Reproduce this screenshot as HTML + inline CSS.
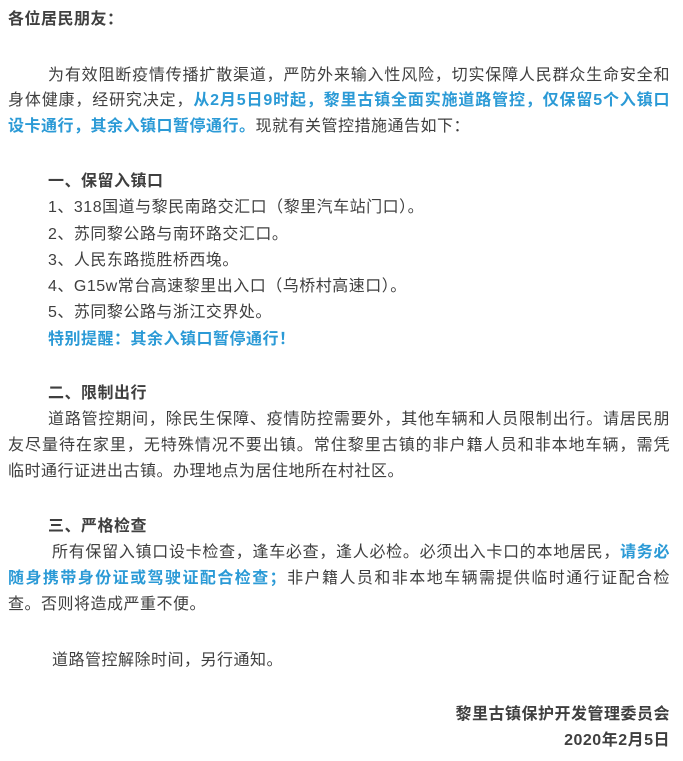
<!DOCTYPE html>
<html><head><meta charset="utf-8"><style>
html,body{margin:0;padding:0;background:#fff;width:683px;height:761px;overflow:hidden;}
body{position:relative;font-family:"Liberation Sans","Noto Sans CJK SC",sans-serif;font-size:16px;color:#3f3f3f;letter-spacing:0.5px;}
.l{position:absolute;white-space:nowrap;line-height:20px;}
.j{text-align:justify;text-align-last:justify;white-space:normal;}
.b{font-weight:bold;}
.c{color:#2b9ad6;font-weight:bold;}
</style></head><body>
<div class="l b" style="left:8px;top:10px;">各位居民朋友：</div>
<div class="l j" style="left:48px;top:66px;width:622px;">为有效阻断疫情传播扩散渠道，严防外来输入性风险，切实保障人民群众生命安全和</div>
<div class="l j" style="left:8px;top:91px;width:662px;">身体健康，经研究决定，<span class="c">从2月5日9时起，黎里古镇全面实施道路管控，仅保留5个入镇口</span></div>
<div class="l" style="left:8px;top:117px;"><span class="c">设卡通行，其余入镇口暂停通行。</span>现就有关管控措施通告如下：</div>
<div class="l b" style="left:48px;top:172px;">一、保留入镇口</div>
<div class="l" style="left:48px;top:198px;">1、318国道与黎民南路交汇口（黎里汽车站门口）。</div>
<div class="l" style="left:48px;top:225px;">2、苏同黎公路与南环路交汇口。</div>
<div class="l" style="left:48px;top:251px;">3、人民东路揽胜桥西堍。</div>
<div class="l" style="left:48px;top:277px;">4、G15w常台高速黎里出入口（乌桥村高速口）。</div>
<div class="l" style="left:48px;top:303px;">5、苏同黎公路与浙江交界处。</div>
<div class="l c" style="left:48px;top:330px;">特别提醒：其余入镇口暂停通行！</div>
<div class="l b" style="left:48px;top:384px;">二、限制出行</div>
<div class="l j" style="left:48px;top:410px;width:622px;">道路管控期间，除民生保障、疫情防控需要外，其他车辆和人员限制出行。请居民朋</div>
<div class="l j" style="left:8px;top:436px;width:662px;">友尽量待在家里，无特殊情况不要出镇。常住黎里古镇的非户籍人员和非本地车辆，需凭</div>
<div class="l" style="left:8px;top:462px;">临时通行证进出古镇。办理地点为居住地所在村社区。</div>
<div class="l b" style="left:48px;top:517px;">三、严格检查</div>
<div class="l j" style="left:52px;top:543px;width:618px;">所有保留入镇口设卡检查，逢车必查，逢人必检。必须出入卡口的本地居民，<span class="c">请务必</span></div>
<div class="l j" style="left:8px;top:569px;width:662px;"><span class="c">随身携带身份证或驾驶证配合检查；</span>非户籍人员和非本地车辆需提供临时通行证配合检</div>
<div class="l" style="left:8px;top:595px;">查。否则将造成严重不便。</div>
<div class="l" style="left:52px;top:651px;">道路管控解除时间，另行通知。</div>
<div class="l b" style="right:13px;top:705px;">黎里古镇保护开发管理委员会</div>
<div class="l b" style="right:13px;top:731px;">2020年2月5日</div>
</body></html>
